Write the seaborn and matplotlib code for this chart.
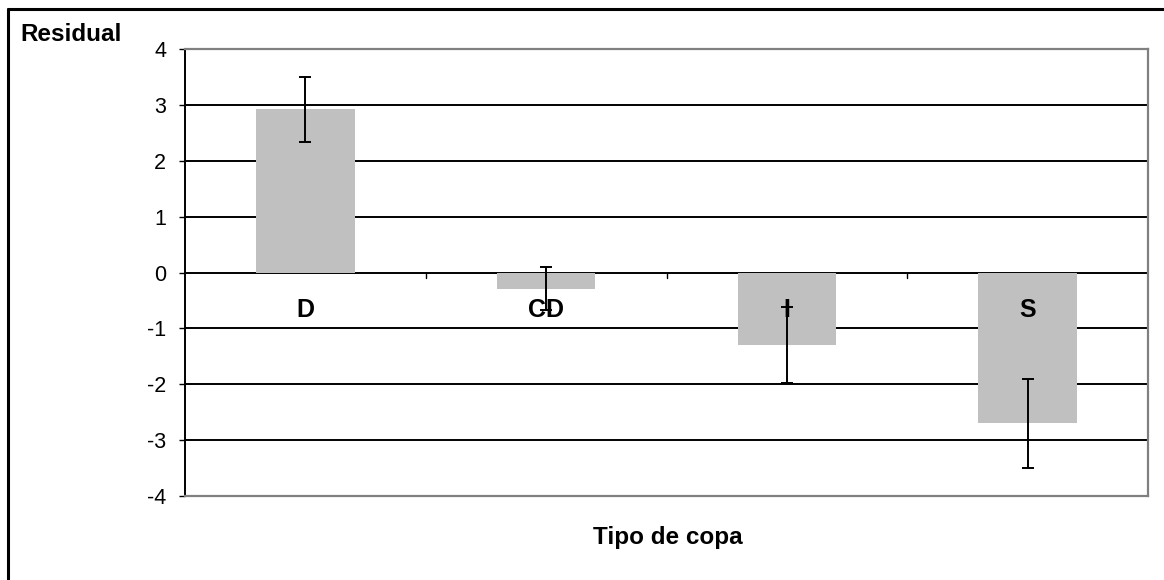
import matplotlib
matplotlib.use("Agg")
import matplotlib.pyplot as plt
from matplotlib.lines import Line2D
import seaborn as sns
import pandas as pd

# Residuals by crown type, with error bar half-widths
categories = ["D", "CD", "I", "S"]
residuals = [2.92, -0.29, -1.30, -2.70]
errors = [0.58, 0.38, 0.68, 0.80]
y_ticks = [-4, -3, -2, -1, 0, 1, 2, 3, 4]

df = pd.DataFrame({"tipo": categories, "residual": residuals})

sns.set_theme(style="white")
plt.rcParams["font.family"] = ["Liberation Sans", "DejaVu Sans"]
plt.rcParams["text.color"] = "black"
plt.rcParams["ytick.color"] = "black"
plt.rcParams["ytick.labelcolor"] = "black"

fig = plt.figure(figsize=(11.64, 5.80), dpi=100)
ax = fig.add_axes([0.1589, 0.1448, 0.8274, 0.7707])

sns.barplot(data=df, x="tipo", y="residual", color="#C0C0C0", saturation=1,
            width=0.41, errorbar=None, ax=ax, zorder=2, linewidth=0)

ax.errorbar(range(len(categories)), residuals, yerr=errors, fmt="none",
            ecolor="black", elinewidth=1.4, capsize=4.5, capthick=1.4, zorder=3)

ax.set_ylim(y_ticks[0], y_ticks[-1])
ax.set_xlim(-0.5, len(categories) - 0.5)
ax.set_yticks(y_ticks)
ax.set_yticklabels([str(t) for t in y_ticks], fontsize=15.5, color="black")

# horizontal gridlines at every interior unit, including zero
for t in y_ticks[1:-1]:
    ax.axhline(t, color="black", lw=1.4, zorder=1)

# category boundary ticks hanging from the zero line
for b in [0.5, 1.5, 2.5]:
    ax.plot([b, b], [0, -0.09], color="black", lw=1.0, zorder=1)

# category labels inside the plot, just below zero
for i, c in enumerate(categories):
    ax.text(i, -0.67, c, ha="center", va="center", fontsize=18,
            fontweight="bold", color="black", zorder=4)

ax.set_xticks([])
ax.set_xlabel("")
ax.set_ylabel("")

for side in ["top", "right", "bottom"]:
    ax.spines[side].set_color("#808080")
    ax.spines[side].set_linewidth(1.6)
ax.spines["left"].set_color("black")
ax.spines["left"].set_linewidth(1.4)
ax.tick_params(axis="y", which="both", left=True, direction="out",
               length=4.5, width=1.0, color="black", pad=9, labelcolor="black")

fig.text(0.0172, 0.941, "Residual", ha="left", va="center", fontsize=17.5,
         fontweight="bold", color="black")
fig.text(0.574, 0.074, "Tipo de copa", ha="center", va="center", fontsize=17.5,
         fontweight="bold", color="black")

# outer chart frame (top and left edges)
fig.add_artist(Line2D([0.0069, 1.0], [0.9845, 0.9845], color="black", lw=2.2,
                      transform=fig.transFigure))
fig.add_artist(Line2D([0.0069, 0.0069], [0.0, 0.9845], color="black", lw=2.2,
                      transform=fig.transFigure))

fig.savefig("out.png", dpi=100)
